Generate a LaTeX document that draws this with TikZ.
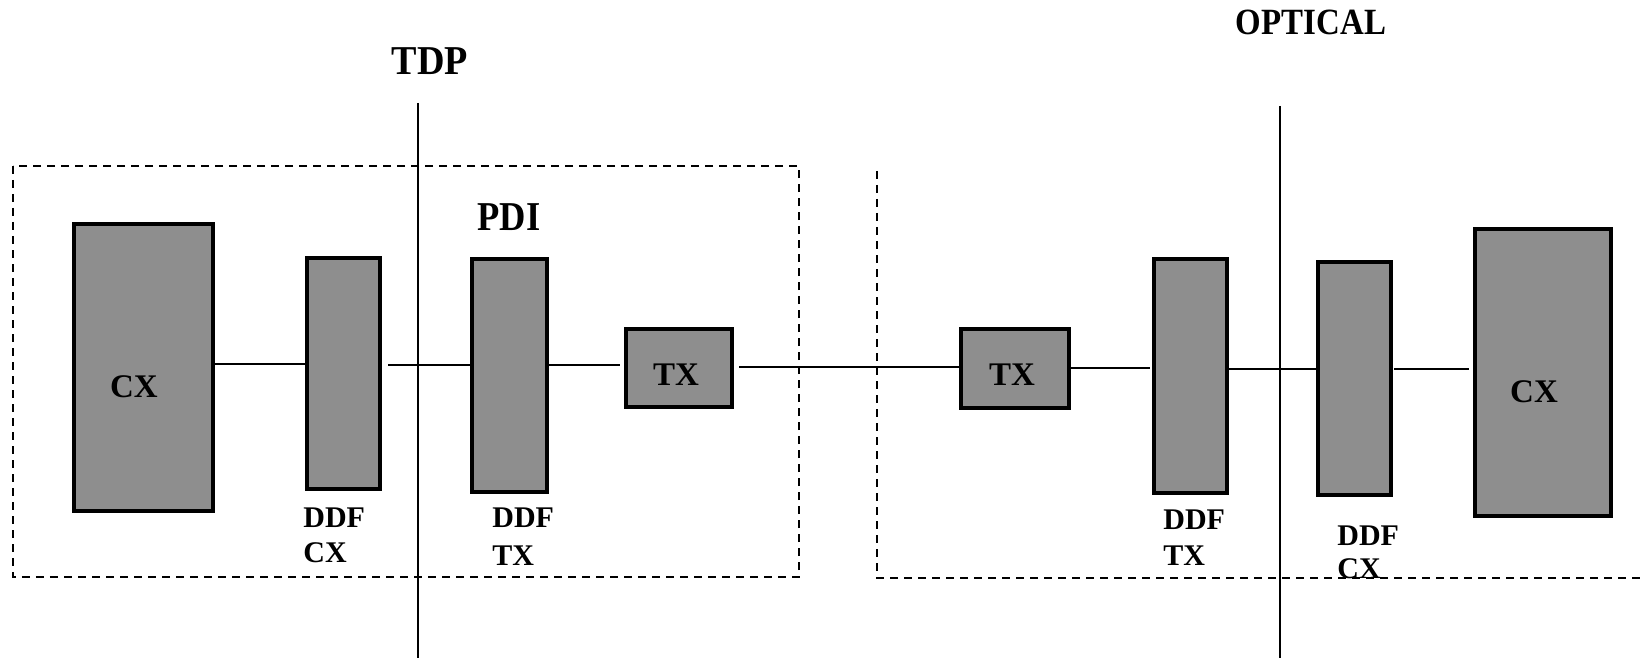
\documentclass[tikz,border=0pt]{standalone}
\usepackage{fontspec}
\setmainfont{Liberation Serif}
\usetikzlibrary{calc}
\definecolor{boxgray}{RGB}{142,142,142}
\begin{document}
\begin{tikzpicture}[x=0.5pt,y=-0.5pt,
  blk/.style={draw=black, line width=1.7pt, fill=boxgray, inner sep=0pt, outer sep=0pt},
  wire/.style={line width=1.3pt},
  frame/.style={line width=1.4pt, dash pattern=on 4pt off 3pt},
  rule/.style={line width=1.3pt},
  big/.style={font=\fontsize{20.5}{24}\bfseries\selectfont, inner sep=0pt, anchor=base},
  small/.style={font=\fontsize{15}{18}\bfseries\selectfont, inner sep=0pt, anchor=base west},
  inlbl/.style={font=\fontsize{16.5}{20}\bfseries\selectfont, inner sep=0pt, anchor=base},
]
\useasboundingbox (0,0) rectangle (1640,658);

% dashed frames
\draw[frame] (13,166) rectangle (799,577);
\draw[frame] (877,171) -- (877,578) -- (1640,578);

% vertical rules
\coordinate (tdpTop) at (418,103);
\coordinate (tdpBot) at (418,658);
\coordinate (optTop) at (1280,106);
\coordinate (optBot) at (1280,658);
\draw[rule] (tdpTop) -- (tdpBot);
\draw[rule] (optTop) -- (optBot);

% blocks
\node[blk, minimum width=69.5pt, minimum height=143.5pt] (cxL) at (143.5,367.5) {};
\node[blk, minimum width=36.5pt, minimum height=115.5pt] (ddfcxL) at (343.5,373.5) {};
\node[blk, minimum width=37.5pt, minimum height=116.5pt] (ddftxL) at (509.5,375.5) {};
\node[blk, minimum width=53pt, minimum height=39pt] (txL) at (679,368) {};
\node[blk, minimum width=54pt, minimum height=39.5pt] (txR) at (1015,368.5) {};
\node[blk, minimum width=36.5pt, minimum height=117pt] (ddftxR) at (1190.5,376) {};
\node[blk, minimum width=36.5pt, minimum height=116.5pt] (ddfcxR) at (1354.5,378.5) {};
\node[blk, minimum width=68pt, minimum height=143.5pt] (cxR) at (1543,372.5) {};

% wire levels
\coordinate (y1) at (0,364);
\coordinate (y2) at (0,365);
\coordinate (y4) at (0,367);
\coordinate (y5) at (0,368);
\coordinate (y6) at (0,369);

% connectors
\draw[wire] (cxL.east |- y1) -- (ddfcxL.west |- y1);
\draw[wire, shorten <=4pt] (ddfcxL.east |- y2) -- (ddftxL.west |- y2);
\draw[wire, shorten >=3pt] (ddftxL.east |- y2) -- (txL.west |- y2);
\draw[wire, shorten <=3.5pt] (txL.east |- y4) -- (txR.west |- y4);
\draw[wire, shorten >=2pt] (txR.east |- y5) -- (ddftxR.west |- y5);
\draw[wire] (ddftxR.east |- y6) -- (ddfcxR.west |- y6);
\draw[wire, shorten <=1.5pt, shorten >=3pt] (ddfcxR.east |- y6) -- (cxR.west |- y6);

% block labels
\node[inlbl] (cxLt) at ($(cxL.center)+(-9.5,29.5)$) {CX};
\node[inlbl] (cxRt) at ($(cxR.center)+(-9,29.5)$) {CX};
\node[inlbl] (txLt) at ($(txL.center)+(-3,17)$) {TX};
\node[inlbl] (txRt) at ($(txR.center)+(-3,16.5)$) {TX};

% headings
\node[big] (tdp) at (430,75) {\scalebox{0.93}[1]{TDP}};
\node[big, font=\fontsize{18.5}{22}\bfseries\selectfont] (optical) at (1311,35) {\scalebox{0.89}[1]{OPTICAL}};
\node[big] (pdi) at (509,230) {\scalebox{0.89}[1]{PDI}};

% DDF labels
\node[small] (l1a) at (303,527) {DDF};
\node[small] (l1b) at (303,562) {CX};
\node[small] (l2a) at (492,527) {DDF};
\node[small] (l2b) at (492,565) {TX};
\node[small] (l3a) at (1163,529) {DDF};
\node[small] (l3b) at (1163,565) {TX};
\node[small] (l4a) at (1337,545) {DDF};
\node[small] (l4b) at (1337,578) {CX};
\end{tikzpicture}
\end{document}
